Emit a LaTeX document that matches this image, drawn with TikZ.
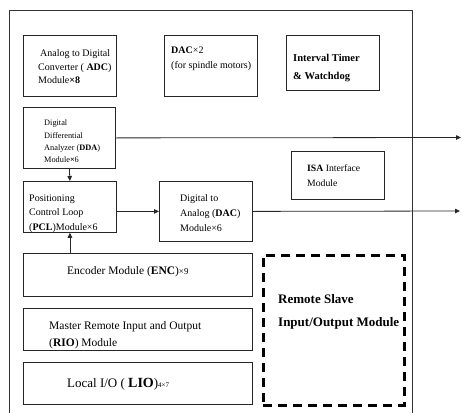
\documentclass[tikz,border=0pt]{standalone}
\usepackage{fontspec}
\setmainfont{Liberation Serif}
\usetikzlibrary{arrows.meta}
\begin{document}
\begin{tikzpicture}[x=1pt,y=-1pt,
  box/.style={draw=black!85, line width=0.8pt, rectangle, inner sep=0pt, anchor=north west},
  dbox/.style={draw=black, line width=2.6pt, dash pattern=on 9pt off 6pt, rectangle, inner sep=0pt, anchor=north west},
  txt/.style={anchor=north west, align=left, inner sep=0pt, text=black},
  conn/.style={draw=black!85, line width=0.8pt, -{Triangle[length=5pt,width=4.5pt]}},
  frame/.style={draw=black!80, line width=1pt},
]
\useasboundingbox (0,0) rectangle (462,412);
% outer frame (bottom edge lies below the picture)
\draw[frame] (9,413) -- (9,11) -- (412,11) -- (412,413);

% boxes
\node[box, minimum width=93pt, minimum height=61pt] (adc) at (23,35) {};
\node[box, minimum width=93pt, minimum height=61pt] (dac2) at (164,35) {};
\node[box, minimum width=93pt, minimum height=55pt] (timer) at (286,35) {};
\node[box, minimum width=92pt, minimum height=61pt] (dda) at (23,107) {};
\node[box, minimum width=93pt, minimum height=51pt] (pcl) at (23,181) {};
\node[box, minimum width=93pt, minimum height=60pt] (dac6) at (159,181) {};
\node[box, minimum width=93pt, minimum height=48pt] (isa) at (291,151) {};
\node[box, minimum width=229pt, minimum height=43pt] (enc) at (23,253) {};
\node[box, minimum width=229pt, minimum height=42pt] (rio) at (23,308) {};
\node[box, minimum width=229pt, minimum height=42pt] (lio) at (23,362) {};
\node[dbox, minimum width=141pt, minimum height=150pt] (remote) at (262,254) {};

% texts
\node[txt, font=\fontsize{10}{13.5}\selectfont] (adct) at (38,49.4)
  {\hspace{2pt}Analog to Digital\\Converter ( \textbf{ADC})\\Module\textbf{×8}};
\node[txt, font=\fontsize{10}{15}\selectfont] (dac2t) at (171,46.4)
  {\textbf{DAC}×2\\(for spindle motors)};
\node[txt, font=\fontsize{10.5}{18}\selectfont\bfseries] (timert) at (293,54.2)
  {Interval Timer\\\& Watchdog};
\node[txt, font=\fontsize{8.3}{12.3}\selectfont] (ddat) at (44,120)
  {Digital\\Differential\\Analyzer (\textbf{DDA})\\Module\textbf{×}6};
\node[txt, font=\fontsize{10}{14.7}\selectfont] (pclt) at (29,194.4)
  {Positioning\\Control Loop\\(\textbf{PCL})Module×6};
\node[txt, font=\fontsize{10}{15}\selectfont] (dac6t) at (180,194.4)
  {Digital to\\Analog (\textbf{DAC})\\Module×6};
\node[txt, font=\fontsize{9.7}{15}\selectfont] (isat) at (307,164.5)
  {\textbf{ISA} Interface\\Module};
\node[txt, font=\fontsize{11.5}{14}\selectfont] (enct) at (67,265.9)
  {Encoder Module (\textbf{ENC}){\fontsize{9}{11}\selectfont ×9}};
\node[txt, font=\fontsize{11.5}{17}\selectfont] (riot) at (49,320.9)
  {Master Remote Input and Output\\(\textbf{RIO}) Module};
\node[txt, font=\fontsize{13}{15}\selectfont] (liot) at (67,378.3)
  {Local I/O ( {\fontsize{14}{15}\selectfont\bfseries LIO}){\fontsize{7}{8}\selectfont 4×7}};
\node[txt, font=\fontsize{13}{23}\selectfont\bfseries] (remotet) at (278,294.3)
  {Remote Slave\\Input/Output Module};

% connectors
\coordinate (out1) at (461,137.5);
\coordinate (out2) at (460,211);
\draw[conn] (dda.east) -- (out1);
\draw[conn] (dda.south) -- (pcl.north);
\draw[conn] (pcl.east |- dac6.west) -- (dac6.west);
\draw[conn] (dac6.east) -- (out2);
\draw[conn] (enc.north -| pcl.south) -- (pcl.south);
\end{tikzpicture}
\end{document}
